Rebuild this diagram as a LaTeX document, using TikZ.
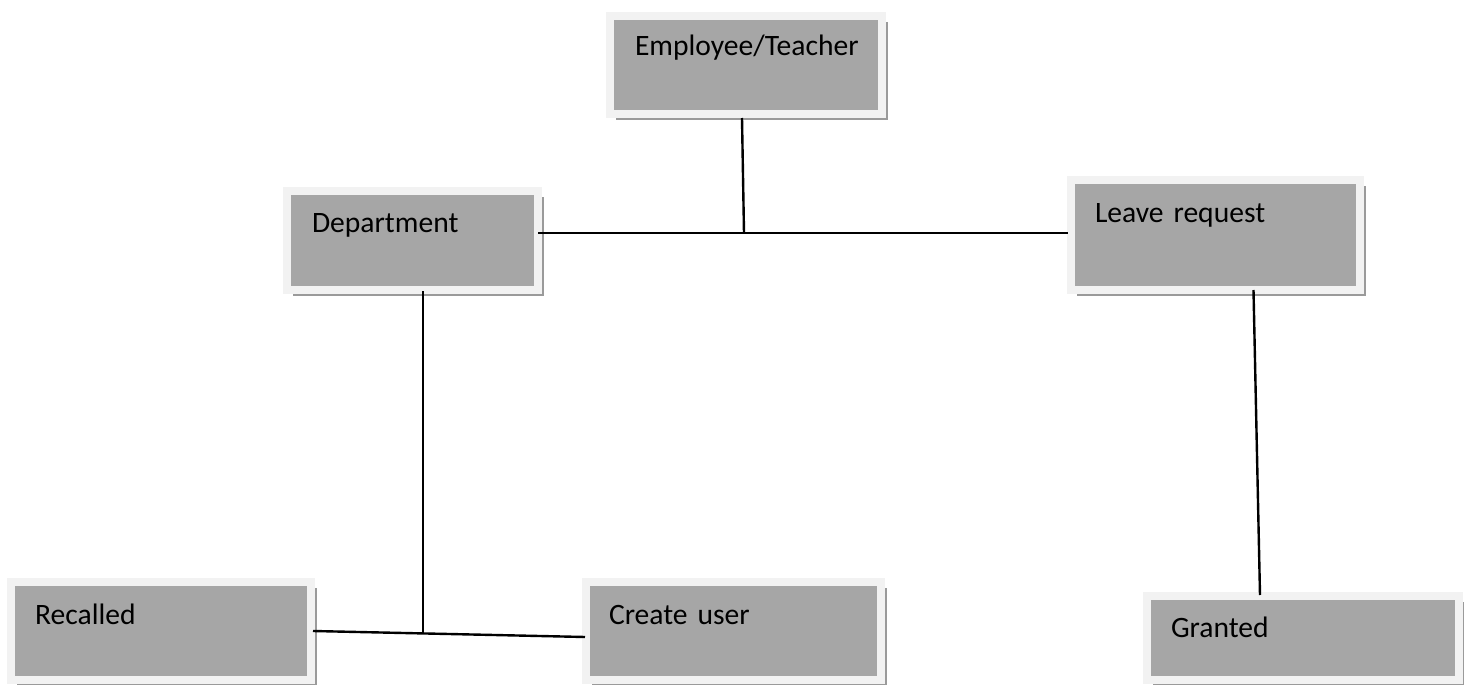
\documentclass[tikz,border=0pt]{standalone}
\usepackage{fontspec}
\setmainfont[WordSpace=0.8]{Carlito}
\usetikzlibrary{calc,shadows}
\definecolor{boxfill}{HTML}{A6A6A6}
\definecolor{boxrim}{HTML}{F2F2F2}
\definecolor{boxshade}{HTML}{9A9A9A}
\tikzset{
  box/.style={anchor=north west, fill=boxfill, draw=boxrim, line width=4pt,
    inner sep=0pt, align=left, font=\fontsize{14.8pt}{17pt}\selectfont,
    drop shadow={shadow xshift=3pt, shadow yshift=-3pt, fill=boxshade, opacity=1}},
  link/.style={line width=1.2pt, black}
}
\begin{document}
\begin{tikzpicture}[x=0.5pt,y=-0.5pt]
\useasboundingbox (0,0) rectangle (1464,685);
\node[box, text width=136pt, text height=19.5pt, text depth=29.5pt] (emp) at (606,12) {\hspace*{12.5pt}Employee/Teacher};
\node[box, text width=125.5pt, text height=20.5pt, text depth=29pt] (dept) at (283,187) {\hspace*{12.5pt}Department};
\node[box, text width=144.5pt, text height=21pt, text depth=34pt] (leave) at (1067,176) {\hspace*{12pt}Leave request};
\node[box, text width=150pt, text height=21pt, text depth=28pt] (rec) at (7,578) {\hspace*{12pt}Recalled};
\node[box, text width=147.5pt, text height=21pt, text depth=28pt] (cre) at (582,578) {\hspace*{11.5pt}Create user};
\node[box, text width=156pt, text height=20.5pt, text depth=21.5pt] (grant) at (1143,592) {\hspace*{12pt}Granted};
\coordinate (j1) at (744,233);
\coordinate (j2) at (423,632);
\draw[link] ($(emp.south -| j1)+(-2,0)$) -- (j1);
\draw[link] ($(dept.east |- j1)+(-4,0)$) -- ($(leave.west |- j1)+(1,0)$);
\draw[link] ($(dept.south -| j2)+(0,-3)$) -- (j2);
\draw[link] ($(rec.east)+(-2,0)$) -- ($(cre.west)+(3,6)$);
\draw[link] ($(leave.south)+(38,-4)$) -- ($(grant.north)+(-43,3)$);
\end{tikzpicture}
\end{document}
